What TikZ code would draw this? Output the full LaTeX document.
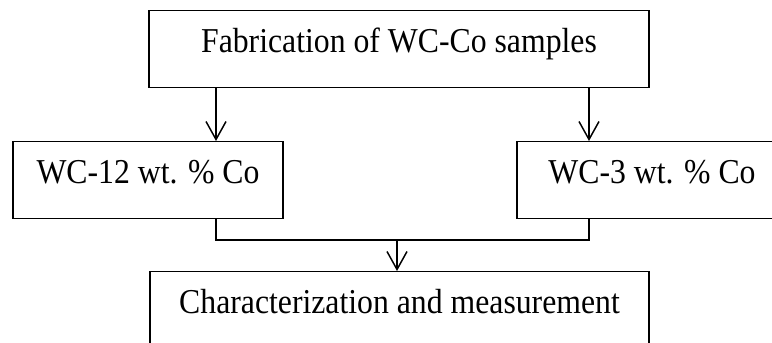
\documentclass[tikz,border=0pt]{standalone}
\usepackage{fontspec}
\usepackage{graphicx}
\setmainfont{Liberation Serif}
\usetikzlibrary{arrows.meta}
\newcommand\talltext[1]{\scalebox{1}[1.1]{#1}}
\begin{document}
\begin{tikzpicture}[x=0.75pt,y=-0.75pt,
		box/.style={draw, line width=1.1pt, inner sep=0pt, anchor=north,
			text height=31.5pt, text depth=26.25pt,
			font=\fontsize{23.8}{28}\selectfont},
		arr/.style={-{Straight Barb[length=13.5pt,width=15pt]}, line width=1.1pt}]
		\clip (0,0) rectangle (772,343);
		% boxes
		\node[box, minimum width=375pt] (fab) at (399,10) {\talltext{Fabrication of WC-Co samples}};
		\node[box, minimum width=202.5pt] (wc12) at (148,141) {\talltext{WC-12 wt. \% Co}};
		\node[box, minimum width=202.5pt] (wc3) at (652,141) {\talltext{WC-3 wt. \% Co}};
		\node[box, minimum width=374pt] (charz) at (399.5,271) {\talltext{Characterization and measurement}};
		% connectors
		\coordinate (lx) at (216,0);
		\coordinate (rx) at (589,0);
		\coordinate (join) at (397,240);
		\draw[arr] (fab.south -| lx) -- (wc12.north -| lx);
		\draw[arr] (fab.south -| rx) -- (wc3.north -| rx);
		\draw[line width=1.1pt] (wc12.south -| lx) |- (join) -| (wc3.south -| rx);
		\draw[arr] (join) -- (charz.north -| join);
	\end{tikzpicture}
\end{document}
